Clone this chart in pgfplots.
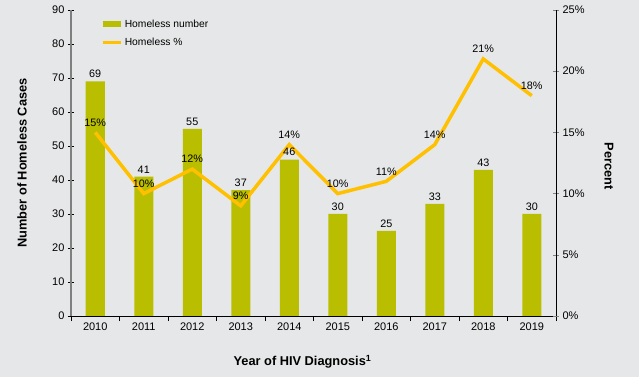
\documentclass[border=0pt]{standalone}
\usepackage{pgfplots}
\pgfplotsset{compat=1.18}
\usepackage{fontspec}
\setmainfont{Liberation Sans}
\definecolor{bg}{HTML}{E6E7E8}
\definecolor{barc}{HTML}{B9BE00}
\definecolor{linec}{HTML}{FFC000}
\definecolor{axgray}{HTML}{7F7F7F}
\pgfplotsset{
  common/.style={at={(0,0)}, anchor=south west,
    scale only axis, width=485pt, height=306pt,
    xmin=-0.5, xmax=9.5,
    tick label style={font=\fontsize{11}{13}\selectfont},
    /pgf/number format/assume math mode=true},
}
\begin{document}
\begin{tikzpicture}[x=1pt,y=1pt]
\fill[bg] (-71,-61) rectangle (568,316);
\path[use as bounding box] (-71,-61) rectangle (568,316);
\begin{axis}[
  common,
  ymin=0, ymax=90, ytick={0,10,...,90},
  xtick={0,...,9},
  xticklabels={2010,2011,2012,2013,2014,2015,2016,2017,2018,2019},
  minor xtick={-0.5,0.5,...,9.5},
  x tick style={draw=none},
  minor x tick style={draw=black, thin, yshift=-2.5pt},
  xtick pos=bottom, ytick pos=left,
  tick align=center,
  minor tick length=5pt,
  major tick length=6pt,
  axis x line*=bottom,
  axis y line*=left,
  x axis line style={black,-},
  y axis line style={axgray,line width=1.2pt,-},
  y tick style={black},
  ylabel={\textbf{Number of Homeless Cases}},
  ylabel style={font=\fontsize{12.8}{15}\selectfont, at={(axis description cs:-0.101,0.5)}, anchor=center},
  xlabel={\textbf{Year of HIV Diagnosis\textsuperscript{1}}},
  xlabel style={font=\fontsize{12.8}{15}\selectfont, yshift=-18pt, xshift=-11pt},
  legend style={at={(0.062,0.975)}, anchor=north west, draw=none, fill=none,
    font=\fontsize{10.3}{12}\selectfont, row sep=5pt, inner sep=0pt},
  legend cell align=left,
]
\addplot[ybar, bar width=19pt, fill=barc, draw=none,
  legend image code/.code={\fill[barc] (0pt,-3pt) rectangle (18pt,3pt);}]
  coordinates {(0,69) (1,41) (2,55) (3,37) (4,46) (5,30) (6,25) (7,33) (8,43) (9,30)};
\addlegendentry{Homeless number}
\addlegendimage{legend image code/.code={\draw[line width=3.5pt,linec] (0pt,0pt) -- (18pt,0pt);}}
\addlegendentry{Homeless \%}
\end{axis}
\begin{axis}[
  common,
  ymin=0, ymax=25, ytick={0,5,...,25},
  yticklabel={\pgfmathprintnumber{\tick}\%},
  axis x line=none,
  axis y line*=right,
  y axis line style={black,-},
  tick align=center, major tick length=6pt,
  ylabel={\textbf{Percent}},
  ylabel style={font=\fontsize{12.8}{15}\selectfont, at={(axis description cs:1.109,0.49)}, anchor=center, rotate=180},
]
\addplot[linec, line width=3.5pt, mark=none,
  nodes near coords={\pgfmathprintnumber{\pgfplotspointmeta}\%},
  every node near coord/.style={font=\fontsize{10.8}{12}\selectfont, black, yshift=1pt}]
  coordinates {(0,15) (1,10) (2,12) (3,9) (4,14) (5,10) (6,11) (7,14) (8,21) (9,18)};
\end{axis}
% bar value labels drawn on top of the line
\begin{axis}[
  common,
  ymin=0, ymax=90,
  hide axis,
]
\addplot[draw=none, mark=none,
  nodes near coords, every node near coord/.style={font=\fontsize{10.8}{12}\selectfont, black}]
  coordinates {(0,69) (1,41) (2,55) (3,37) (4,46) (5,30) (6,25) (7,33) (8,43) (9,30)};
\end{axis}
\end{tikzpicture}
\end{document}
